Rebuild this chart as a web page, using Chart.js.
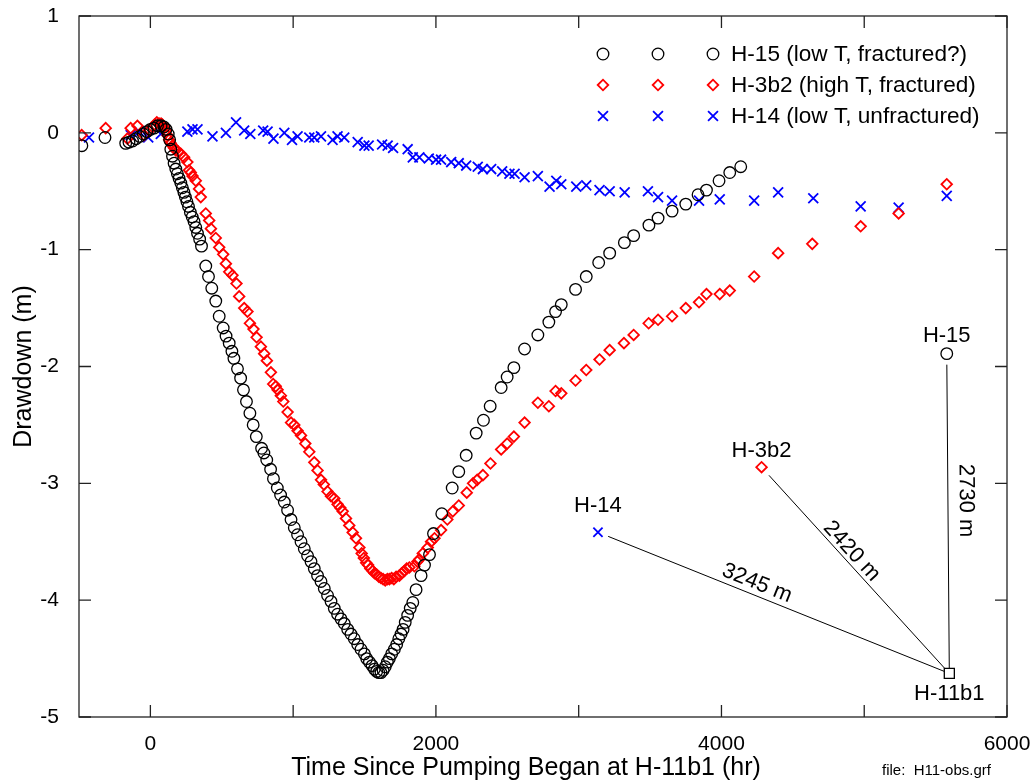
<!DOCTYPE html>
<html>
<head>
<meta charset="utf-8">
<script src="https://cdn.jsdelivr.net/npm/chart.js@4.4.0/dist/chart.umd.min.js"></script>
<style>
  body { margin: 0; background: #fff; }
  #wrap { width: 1036px; height: 784px; }
</style>
</head>
<body>
<div id="wrap"><canvas id="chart" width="1036" height="784"></canvas></div>
<script>
// H-15 (black circles): time (hr), drawdown (m)
const h15T = [-480, -318, -173, -150, -125, -100, -75, -50, -25, 0, 25, 50, 75, 95, 110, 125, 135,
  143, 155, 166, 178, 189, 201, 213, 224, 235, 245, 256, 267, 280, 293, 306, 318, 330, 345, 358,
  388, 407, 430, 458, 482, 510, 530, 552, 571, 585, 610, 632, 652, 673, 697, 720, 742, 779, 795,
  815, 842, 862, 889, 912, 938, 961, 985, 1008, 1031, 1055, 1078, 1101, 1125, 1148, 1171, 1195,
  1218, 1241, 1265, 1288, 1311, 1335, 1358, 1382, 1405, 1428, 1452, 1475, 1499, 1515, 1534, 1553,
  1569, 1585, 1600, 1615, 1630, 1645, 1660, 1674, 1690, 1709, 1725, 1740, 1756, 1770, 1785, 1802,
  1820, 1838, 1861, 1896, 1920, 1955, 1983, 2041, 2114, 2160, 2212, 2282, 2333, 2380, 2457, 2499,
  2546, 2621, 2714, 2791, 2838, 2878, 2978, 3053, 3140, 3217, 3320, 3385, 3492, 3556, 3654, 3750,
  3836, 3895, 3983, 4058, 4135];
const h15D = [-0.11, -0.04, -0.09, -0.08, -0.07, -0.05, -0.03, -0.01, 0.01, 0.03, 0.04, 0.06, 0.06, 0.05, 0.03, -0.01, -0.06,
  -0.14, -0.20, -0.26, -0.31, -0.35, -0.39, -0.43, -0.47, -0.51, -0.55, -0.59, -0.63, -0.68, -0.72, -0.76, -0.81, -0.86, -0.91, -0.97,
  -1.14, -1.23, -1.33, -1.44, -1.57, -1.67, -1.74, -1.80, -1.87, -1.93, -2.02, -2.10, -2.20, -2.30, -2.40, -2.50, -2.60, -2.70, -2.74,
  -2.80, -2.88, -2.96, -3.04, -3.10, -3.16, -3.23, -3.31, -3.38, -3.44, -3.50, -3.56, -3.62, -3.67, -3.73, -3.79, -3.84,
  -3.90, -3.96, -4.01, -4.07, -4.12, -4.16, -4.20, -4.25, -4.29, -4.33, -4.38, -4.42, -4.46, -4.50, -4.53, -4.56,
  -4.59, -4.61, -4.62, -4.62, -4.60, -4.57, -4.53, -4.50, -4.46, -4.42, -4.38, -4.33, -4.29, -4.25, -4.19, -4.13,
  -4.07, -4.02, -3.91, -3.79, -3.70, -3.61, -3.43, -3.26, -3.04, -2.90, -2.76, -2.57, -2.46, -2.34, -2.18, -2.09,
  -2.01, -1.85, -1.73, -1.62, -1.53, -1.47, -1.34, -1.23, -1.11, -1.03, -0.94, -0.88, -0.79, -0.73, -0.67, -0.61,
  -0.53, -0.49, -0.41, -0.34, -0.29];

// H-3b2 (red diamonds)
const h3b2T = [-481, -313, -161, -138, -91, -44, -9, 14, 30, 45, 61, 75, 84, 96, 108, 120, 131, 143, 154, 166,
  178, 195, 213, 236, 259, 271, 283, 295, 318, 341, 353, 388, 412, 424, 458, 482, 510, 529, 552, 575,
  603, 622, 657, 680, 697, 722, 744, 774, 797, 816, 844, 860, 878, 891, 914, 931, 961, 985, 1008, 1031,
  1055, 1085, 1113, 1148, 1171, 1195, 1215, 1241, 1265, 1288, 1311, 1330, 1347, 1370, 1393, 1417, 1440, 1464, 1480, 1495,
  1511, 1525, 1540, 1557, 1570, 1585, 1600, 1615, 1630, 1645, 1660, 1674, 1690, 1705, 1721, 1744, 1760, 1779, 1795, 1814,
  1849, 1870, 1884, 1908, 1943, 1966, 1990, 2036, 2080, 2118, 2160, 2216, 2260, 2289, 2329, 2382, 2457, 2499, 2546, 2621,
  2714, 2791, 2838, 2878, 2978, 3053, 3146, 3217, 3317, 3385, 3490, 3556, 3654, 3750, 3843, 3895, 3988, 4058, 4229, 4397,
  4636, 4975, 5241, 5578];
const h3b2D = [-0.02, 0.04, -0.05, 0.04, 0.06, -0.02, 0.02, 0.05, 0.07, 0.09, 0.08, 0.08, 0.07, 0.05, 0.02, -0.02, -0.06, -0.09, -0.11, -0.13,
  -0.15, -0.16, -0.18, -0.21, -0.25, -0.32, -0.34, -0.37, -0.41, -0.48, -0.55, -0.69, -0.75, -0.82, -0.90, -0.98, -1.04, -1.12, -1.19, -1.22,
  -1.29, -1.40, -1.50, -1.53, -1.63, -1.68, -1.75, -1.83, -1.89, -1.95, -2.05, -2.15, -2.17, -2.20, -2.25, -2.30, -2.39, -2.48, -2.50, -2.55,
  -2.59, -2.66, -2.73, -2.82, -2.89, -2.97, -3.01, -3.07, -3.11, -3.13, -3.18, -3.21, -3.24, -3.30, -3.36, -3.42, -3.47, -3.55, -3.60, -3.64,
  -3.68, -3.70, -3.73, -3.75, -3.77, -3.78, -3.80, -3.81, -3.82, -3.83, -3.82, -3.82, -3.81, -3.82, -3.80, -3.79, -3.77, -3.75, -3.73, -3.72,
  -3.71, -3.67, -3.65, -3.60, -3.55, -3.50, -3.47, -3.40, -3.31, -3.24, -3.19, -3.08, -3.00, -2.97, -2.93, -2.83, -2.71, -2.66, -2.60, -2.48,
  -2.31, -2.34, -2.21, -2.23, -2.12, -2.03, -1.94, -1.86, -1.80, -1.73, -1.63, -1.60, -1.57, -1.50, -1.45, -1.38, -1.38, -1.35, -1.23, -1.03,
  -0.95, -0.80, -0.69, -0.44];

// H-14 (blue crosses)
const h14T = [-430, -138, -79, -15, 73, 259, 295, 330, 435, 529, 600, 657, 700, 790, 821, 862, 938, 992, 1031, 1113,
  1148, 1195, 1276, 1311, 1358, 1452, 1499, 1529, 1623, 1662, 1700, 1802, 1838, 1884, 1950, 2001, 2036, 2107, 2160, 2212,
  2293, 2329, 2387, 2464, 2515, 2551, 2621, 2714, 2796, 2843, 2878, 2983, 3053, 3146, 3217, 3322, 3485, 3556, 3654, 3843,
  3988, 4229, 4397, 4643, 4975, 5241, 5578];
const h14D = [-0.04, -0.02, 0.01, -0.04, -0.01, 0.01, 0.03, 0.03, -0.03, 0.00, 0.09, 0.02, -0.01, 0.02, 0.01, -0.05, 0.00, -0.06, -0.03, -0.04,
  -0.04, -0.03, -0.06, -0.03, -0.04, -0.08, -0.11, -0.11, -0.10, -0.11, -0.13, -0.14, -0.21, -0.21, -0.22, -0.23, -0.23, -0.25, -0.26, -0.28,
  -0.29, -0.31, -0.31, -0.33, -0.35, -0.35, -0.38, -0.37, -0.46, -0.41, -0.44, -0.46, -0.45, -0.49, -0.50, -0.51, -0.50, -0.55, -0.58, -0.58,
  -0.57, -0.58, -0.51, -0.56, -0.63, -0.64, -0.54];

const seriesLabels = ['H-15 (low T, fractured?)', 'H-3b2 (high T, fractured)', 'H-14 (low T, unfractured)'];

// well map inset (drawn in the chart's own coordinates)
const wellNames = ['H-15', 'H-3b2', 'H-14', 'H-11b1'];
const wellX = [5578, 4281, 3135, 5596];
const wellY = [-1.89, -2.862, -3.419, -4.627];
const wellDistances = ['2730 m', '2420 m', '3245 m'];

const xTicks = [0, 1000, 2000, 3000, 4000, 5000, 6000];
const xTickLabels = ['0', '', '2000', '', '4000', '', '6000'];
const yTicks = [1, 0, -1, -2, -3, -4, -5];
const yTickLabels = ['1', '0', '-1', '-2', '-3', '-4', '-5'];
const xTitle = 'Time Since Pumping Began at H-11b1 (hr)';
const yTitle = 'Drawdown (m)';
const fileNote = 'file:  H11-obs.grf';

const FONT = "'Liberation Sans', Arial, sans-serif";
Chart.defaults.font.family = FONT;
Chart.defaults.color = '#000';

const pts = (xs, ys) => xs.map((v, i) => ({ x: v, y: ys[i] }));

const styles = [
  { pointStyle: 'circle', radius: 5.8, borderWidth: 1.3, color: '#000000' },
  { pointStyle: 'rectRot', radius: 5.3, borderWidth: 1.8, color: '#ff0000' },
  { pointStyle: 'crossRot', radius: 7, borderWidth: 1.8, color: '#0000ff' }
];
const wellStyles = [styles[0], styles[1], { pointStyle: 'crossRot', radius: 6.5, borderWidth: 1.8, color: '#0000ff' },
  { pointStyle: 'rect', radius: 7.1, borderWidth: 1.3, color: '#000000' }];

// frame with inward ticks on all four sides
const framePlugin = {
  id: 'frame',
  afterDatasetsDraw(chart) {
    const { ctx, chartArea: a, scales: { x, y } } = chart;
    ctx.save();
    ctx.strokeStyle = '#222';
    ctx.lineWidth = 1.3;
    ctx.strokeRect(a.left, a.top, a.right - a.left, a.bottom - a.top);
    ctx.beginPath();
    xTicks.forEach(v => {
      const px = x.getPixelForValue(v);
      ctx.moveTo(px, a.bottom); ctx.lineTo(px, a.bottom - 12);
      ctx.moveTo(px, a.top); ctx.lineTo(px, a.top + 12);
    });
    yTicks.forEach(v => {
      const py = y.getPixelForValue(v);
      ctx.moveTo(a.left, py); ctx.lineTo(a.left + 12, py);
      ctx.moveTo(a.right, py); ctx.lineTo(a.right - 12, py);
    });
    ctx.stroke();

    // x title and file note
    ctx.fillStyle = '#000';
    ctx.font = '25px ' + FONT;
    ctx.textAlign = 'center';
    ctx.textBaseline = 'middle';
    ctx.fillText(xTitle, 526, 768);
    ctx.font = '15px ' + FONT;
    ctx.textAlign = 'left';
    ctx.fillText(fileNote, 882, 771);
    ctx.restore();
  }
};

// legend: three repeated markers per row, then the text
const legendPlugin = {
  id: 'legend3',
  afterDraw(chart) {
    const { ctx, chartArea: a } = chart;
    ctx.save();
    seriesLabels.forEach((lab, i) => {
      const rowY = a.top + 38 + i * 31;
      const st = styles[i];
      ctx.strokeStyle = st.color;
      ctx.fillStyle = 'rgba(0,0,0,0)';
      ctx.lineWidth = st.borderWidth;
      [603, 658, 713].forEach(mx => {
        Chart.helpers.drawPoint(ctx, { pointStyle: st.pointStyle, radius: st.radius, borderWidth: st.borderWidth, rotation: 0 }, mx, rowY);
      });
      ctx.fillStyle = '#000';
      ctx.font = '22.6px ' + FONT;
      ctx.textAlign = 'left';
      ctx.textBaseline = 'middle';
      ctx.fillText(lab, 731, rowY + 1);
    });
    ctx.restore();
  }
};

// inset map: connecting lines and labels
const insetPlugin = {
  id: 'inset',
  beforeDatasetsDraw(chart) {
    const { ctx, scales: { x, y } } = chart;
    const hx = x.getPixelForValue(wellX[3]), hy = y.getPixelForValue(wellY[3]);
    ctx.save();
    ctx.strokeStyle = '#000';
    ctx.lineWidth = 1;
    for (let i = 0; i < 3; i++) {
      const px = x.getPixelForValue(wellX[i]), py = y.getPixelForValue(wellY[i]);
      const dx = px - hx, dy = py - hy, len = Math.hypot(dx, dy);
      ctx.beginPath();
      ctx.moveTo(hx, hy);
      ctx.lineTo(hx + dx * (len - 11) / len, hy + dy * (len - 11) / len);
      ctx.stroke();
    }
    ctx.restore();
  },
  afterDatasetsDraw(chart) {
    const { ctx, scales: { x, y } } = chart;
    const hx = x.getPixelForValue(wellX[3]), hy = y.getPixelForValue(wellY[3]);
    ctx.save();
    ctx.fillStyle = '#000';
    ctx.font = '22px ' + FONT;
    ctx.textAlign = 'center';
    ctx.textBaseline = 'alphabetic';
    const nameOff = [-12, -10, -20, 27];
    wellNames.forEach((n, i) => {
      ctx.fillText(n, x.getPixelForValue(wellX[i]), y.getPixelForValue(wellY[i]) + nameOff[i]);
    });
    ctx.textBaseline = 'middle';
    const frac = [0.46, 0.44, 0.44];
    const off = [18, 10, 12];
    for (let i = 0; i < 3; i++) {
      const px = x.getPixelForValue(wellX[i]), py = y.getPixelForValue(wellY[i]);
      const ang = Math.atan2(hy - py, hx - px);
      const cx = px + (hx - px) * frac[i], cy = py + (hy - py) * frac[i];
      ctx.save();
      ctx.translate(cx, cy);
      ctx.rotate(ang);
      ctx.fillText(wellDistances[i], 0, -off[i]);
      ctx.restore();
    }
    ctx.restore();
  }
};

const dataDatasets = [
  { data: pts(h15T, h15D) },
  { data: pts(h3b2T, h3b2D) },
  { data: pts(h14T, h14D) }
].map((d, i) => Object.assign(d, {
  label: seriesLabels[i],
  pointStyle: styles[i].pointStyle,
  pointRadius: styles[i].radius,
  pointBorderWidth: styles[i].borderWidth,
  pointBorderColor: styles[i].color,
  pointBackgroundColor: 'rgba(0,0,0,0)',
  showLine: false
}));

const wellDatasets = wellNames.map((n, i) => ({
  label: n,
  data: [{ x: wellX[i], y: wellY[i] }],
  pointStyle: wellStyles[i].pointStyle,
  pointRadius: wellStyles[i].radius,
  pointBorderWidth: wellStyles[i].borderWidth,
  pointBorderColor: wellStyles[i].color,
  pointBackgroundColor: '#ffffff',
  showLine: false
}));

new Chart(document.getElementById('chart').getContext('2d'), {
  type: 'scatter',
  data: { datasets: dataDatasets.concat(wellDatasets) },
  options: {
    responsive: false,
    animation: false,
    events: [],
    layout: { padding: { left: 0, right: 29, top: 16, bottom: 0 } },
    plugins: { legend: { display: false }, tooltip: { enabled: false } },
    scales: {
      x: {
        type: 'linear', min: -500, max: 6000,
        afterBuildTicks: s => { s.ticks = xTicks.map(v => ({ value: v })); },
        afterFit: s => { s.height = 67; s.paddingLeft = 0; s.paddingRight = 0; },
        ticks: { autoSkip: false, maxRotation: 0, padding: 7, font: { size: 21 }, color: '#000',
          callback: (v, i) => xTickLabels[i] },
        grid: { display: false },
        border: { display: false },
        title: { display: false }
      },
      y: {
        type: 'linear', min: -5, max: 1,
        afterBuildTicks: s => { s.ticks = yTicks.map(v => ({ value: v })); },
        afterFit: s => { s.width = 79; s.paddingTop = 0; s.paddingBottom = 0; },
        ticks: { autoSkip: false, padding: 12, font: { size: 21 }, color: '#000',
          callback: (v, i) => yTickLabels[i] },
        grid: { display: false },
        border: { display: false },
        title: { display: true, text: yTitle, font: { size: 25 }, color: '#000', padding: { top: 9.5, bottom: 0 } }
      }
    }
  },
  plugins: [framePlugin, legendPlugin, insetPlugin]
});
</script>
</body>
</html>
